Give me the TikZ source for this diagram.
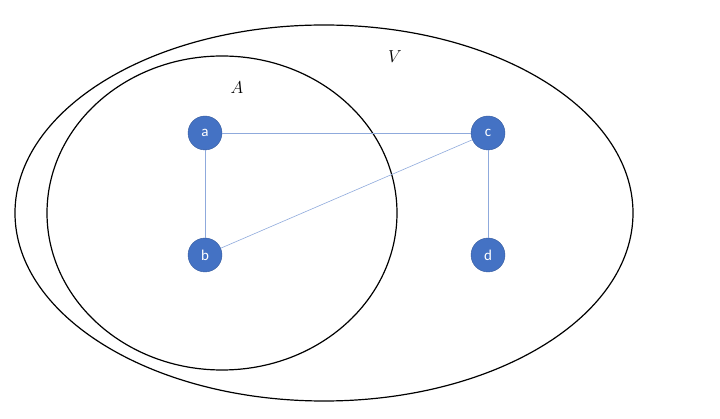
\documentclass[tikz,border=0pt]{standalone}
\usepackage{fontspec}
\setsansfont{Carlito}
\begin{document}
\begin{tikzpicture}[x=1pt,y=-1pt,
  vert/.style={circle,fill=blue!55!cyan!60!black,fill=vcol,draw=vcol!80!black,minimum size=34pt,inner sep=0pt,text=white,font=\sffamily\fontsize{15}{15}\selectfont},
  edge/.style={draw=ecol,line width=0.6pt},
  set/.style={draw=black,line width=1.2pt}]
\definecolor{vcol}{HTML}{4472C4}
\definecolor{ecol}{HTML}{8FAADC}
\useasboundingbox (0,0) rectangle (720,419);
\draw[set] (324,213) ellipse [x radius=309,y radius=188];
\draw[set] (222,213) ellipse [x radius=175,y radius=157];
\node (V) at (395,57) {\fontsize{16}{16}\selectfont$V$};
\node (A) at (237,88) {\fontsize{16}{16}\selectfont$A$};
\node[vert] (a) at (205,133) {a};
\node[vert] (c) at (488,133) {c};
\node[vert] (b) at (205,255) {b};
\node[vert] (d) at (488,255) {d};
\draw[edge] (a) -- (c);
\draw[edge] (a) -- (b);
\draw[edge] (b) -- (c);
\draw[edge] (c) -- (d);
\end{tikzpicture}
\end{document}
